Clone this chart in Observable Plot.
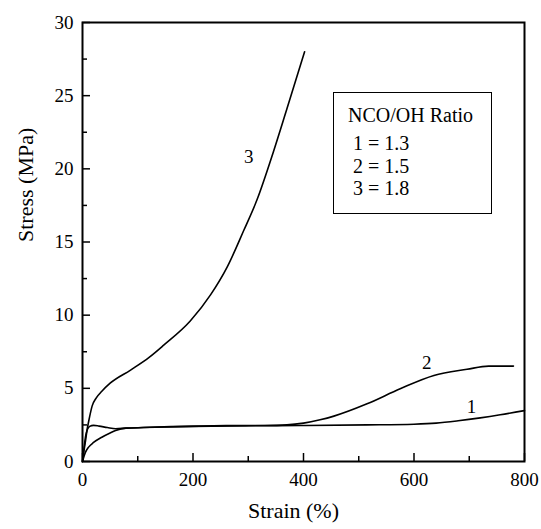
<!DOCTYPE html>
<html><head><meta charset="utf-8">
<script src="https://cdn.jsdelivr.net/npm/d3@7"></script>
<script src="https://cdn.jsdelivr.net/npm/@observablehq/plot@0.6"></script>
<style>
body{margin:0;background:#fff}
#wrap{position:relative;width:541px;height:529px}
#wrap svg, #wrap svg text{font-family:"Liberation Serif","Times New Roman",Tinos,"Nimbus Roman","DejaVu Serif",serif !important}
.legend{position:absolute;left:333px;top:92px;width:157px;height:120px;border:1.6px solid #000;font-family:"Liberation Serif","Times New Roman",Tinos,"DejaVu Serif",serif;font-size:20px;color:#000;background:#fff}
.legend span{position:absolute;white-space:nowrap;line-height:1}
</style>
</head><body>
<div id="wrap"></div>
<script>
// Curve 1 (NCO/OH = 1.3)
const strain1 = [0, 5, 11.5, 20, 35, 50, 60, 78, 110, 200, 300, 395, 515, 600, 640, 680, 720, 756, 800];
const stress1 = [0, 0.6, 1.0, 1.3, 1.66, 1.95, 2.12, 2.28, 2.32, 2.4, 2.44, 2.46, 2.5, 2.55, 2.62, 2.78, 2.98, 3.19, 3.48];
// Curve 2 (NCO/OH = 1.5)
const strain2 = [0, 3, 6, 9, 13, 20, 30, 45, 60, 80, 110, 160, 260, 330, 370, 400, 430, 455, 515, 575, 636, 696, 735, 780];
const stress2 = [0, 1.0, 1.8, 2.2, 2.4, 2.47, 2.42, 2.32, 2.24, 2.28, 2.32, 2.38, 2.45, 2.46, 2.5, 2.62, 2.85, 3.1, 3.94, 4.97, 5.88, 6.3, 6.52, 6.52];
// Curve 3 (NCO/OH = 1.8)
const strain3 = [0, 2.5, 5.4, 8, 11.5, 17.5, 25, 35, 50, 87, 120, 147, 195, 232, 262, 292, 316, 345, 370, 402];
const stress3 = [0, 0.7, 1.4, 2.1, 2.8, 3.8, 4.35, 4.8, 5.35, 6.25, 7.1, 7.95, 9.6, 11.4, 13.3, 15.8, 17.9, 21.1, 24.1, 28.0];

const curveLabels = ["1", "2", "3"];
const curveLabelX = [704, 623, 301];
const curveLabelY = [3.76, 6.72, 20.8];

const xMajor = [0, 200, 400, 600, 800];
const xMinor = [100, 300, 500, 700];
const yMajor = [0, 5, 10, 15, 20, 25, 30];
const yMinor = [2.5, 7.5, 12.5, 17.5, 22.5, 27.5];

const legendTitle = "NCO/OH Ratio";
const legendItems = ["1 = 1.3", "2 = 1.5", "3 = 1.8"];

const rows = [];
[[strain1, stress1, "1"], [strain2, stress2, "2"], [strain3, stress3, "3"]].forEach(([xs, ys, s]) => {
  xs.forEach((x, i) => rows.push({strain: x, stress: ys[i], series: s}));
});
const labelRows = curveLabels.map((t, i) => ({t, x: curveLabelX[i], y: curveLabelY[i]}));

const chart = Plot.plot({
  width: 541, height: 529,
  marginLeft: 82, marginRight: 17, marginTop: 22, marginBottom: 68,
  style: {color: "#000", background: "#fff"},
  x: {domain: [0, 800]},
  y: {domain: [0, 30]},
  marks: [
    Plot.axisX(xMajor, {tickSize: -8, text: null, label: null, strokeWidth: 1.5}),
    Plot.axisX(xMinor, {tickSize: -5, text: null, label: null, strokeWidth: 1.5}),
    Plot.axisX(xMajor, {tickSize: 0, tickPadding: 11, fontSize: 19, label: null}),
    Plot.axisY(yMajor, {tickSize: -8, text: null, label: null, strokeWidth: 1.5}),
    Plot.axisY(yMinor, {tickSize: -5, text: null, label: null, strokeWidth: 1.5}),
    Plot.axisY(yMajor, {tickSize: 0, tickPadding: 9, fontSize: 19, label: null}),
    Plot.frame({strokeWidth: 2}),
    Plot.line(rows, {x: "strain", y: "stress", z: "series", curve: "monotone-x", strokeWidth: 1.6}),
    Plot.text(labelRows, {x: "x", y: "y", text: "t", fontSize: 19}),
    Plot.text(["Strain (%)"], {frameAnchor: "bottom", dy: 56, dx: -10, fontSize: 22}),
    Plot.text(["Stress (MPa)"], {frameAnchor: "left", dx: -57, rotate: -90, fontSize: 22})
  ]
});
const wrap = document.getElementById("wrap");
wrap.appendChild(chart);
const lg = document.createElement("div");
lg.className = "legend";
const tops = [12, 40, 63, 85];
[legendTitle, ...legendItems].forEach((t, i) => {
  const s = document.createElement("span");
  s.textContent = t;
  s.style.left = (i === 0 ? 14 : 19) + "px";
  s.style.top = tops[i] + "px";
  lg.appendChild(s);
});
wrap.appendChild(lg);
</script>
</body></html>
